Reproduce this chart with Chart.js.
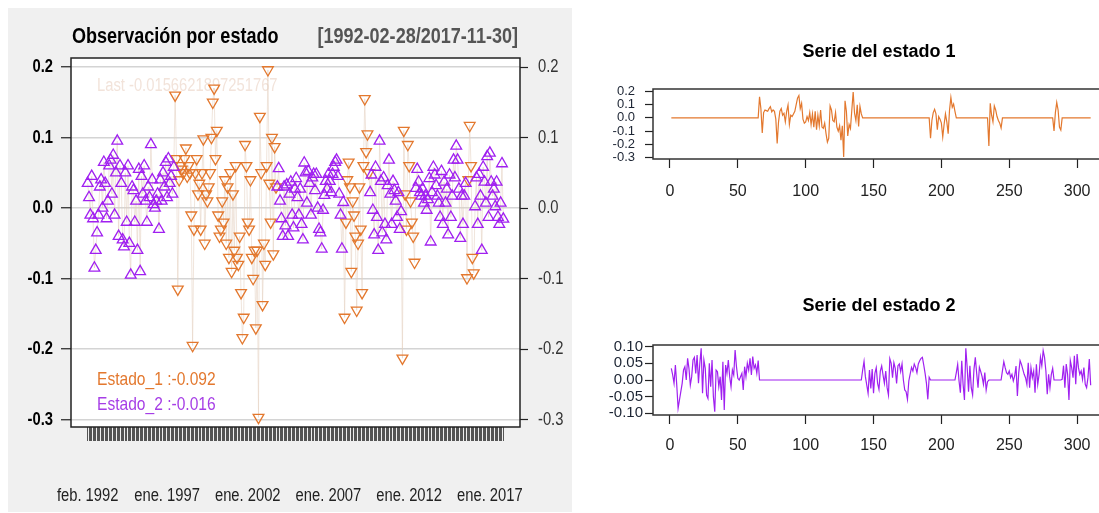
<!DOCTYPE html>
<html>
<head>
<meta charset="utf-8">
<script src="https://cdn.jsdelivr.net/npm/chart.js@4"></script>
<style>
  html, body { margin: 0; padding: 0; background: #fff; width: 1099px; height: 513px; overflow: hidden; }
  canvas { position: absolute; }
  #izq { left: 0; top: 0; }
  #serie1 { left: 580px; top: 0; }
  #serie2 { left: 580px; top: 260px; }
</style>
</head>
<body>
<canvas id="izq" width="580" height="513"></canvas>
<canvas id="serie1" width="540" height="230"></canvas>
<canvas id="serie2" width="540" height="253"></canvas>
<script>
// rendimientos mensuales feb. 1992 - nov. 2017, en tramos consecutivos de cada régimen
const estadoTramo = [2, 1, 2, 1, 2, 1, 2, 1, 2];
const tramo1 = [0.035, 0.015, -0.01, 0.045, -0.015, -0.085, -0.06, -0.035, -0.01, 0.03,
  0.04, 0.0, 0.065, 0.035, -0.015, 0.01, 0.06, 0.068, 0.02, 0.075,
  -0.01, 0.05, 0.095, -0.04, 0.06, 0.035, -0.045, -0.055, 0.05, -0.02,
  0.06, -0.05, -0.095, 0.03, 0.025, -0.02, 0.01, -0.06, 0.055, -0.09,
  0.045, 0.02, 0.06, 0.01, -0.02, 0.03, 0.015, 0.09, 0.04, 0.005,
  0.0, 0.01, 0.02, -0.03, 0.04, 0.01, 0.05, 0.03, 0.065, 0.015,
  0.07, 0.035, 0.045, 0.02, 0.058];
const tramo2 = [0.16, 0.07, -0.115, 0.04, 0.06, 0.055, 0.05, 0.07, 0.085, 0.045,
  0.06, 0.05, -0.01, -0.195, -0.03, 0.05, 0.07, 0.02, 0.035, -0.03,
  0.05, 0.098, -0.05, 0.02, 0.01, 0.03, 0.05, 0.1, 0.15, 0.17,
  0.07, 0.11, -0.01, -0.04, -0.03, 0.01, -0.02, 0.04, -0.05, 0.03,
  -0.07, 0.05, -0.09, 0.02, -0.06, 0.06, -0.07, -0.08, -0.04, -0.12,
  -0.184, -0.155, 0.09, 0.06, -0.02, -0.03, 0.04, -0.07, -0.1, -0.06,
  -0.17, -0.06, -0.297, 0.13, 0.05, -0.137, -0.05, -0.08, 0.06, 0.196,
  0.035, -0.02, 0.1, -0.065, 0.087, 0.03];
const tramo3 = [0.03, 0.056, 0.01, -0.015, -0.04, 0.03, -0.025, 0.033, -0.04, 0.02,
  0.037, -0.01, -0.028, 0.027, 0.042, 0.015, -0.01, 0.027, -0.023, -0.045,
  0.064, 0.05, 0.007, 0.052, 0.035, -0.01, 0.043, 0.048, 0.025, 0.048,
  0.0, -0.03, -0.035, -0.058, -0.003, 0.018, 0.038, 0.027, 0.048, 0.038,
  0.022, 0.048, 0.058, 0.065, 0.068, 0.045, 0.02, -0.01, -0.058, 0.008];
const tramo4 = [-0.155, -0.02, 0.04, 0.065, 0.03, -0.09, 0.01, -0.01, -0.04, -0.145,
  -0.05, 0.03, -0.03, -0.12, 0.06, 0.155, 0.08, 0.105, 0.05];
const tramo5 = [0.022, 0.047, -0.003, -0.038, 0.058, -0.013, -0.06, 0.095, 0.038, -0.035,
  0.043, -0.023, -0.045, 0.032, 0.068, 0.02, -0.023, 0.038, 0.025, 0.01,
  -0.013, 0.022, -0.03, -0.005];
const tramo6 = [-0.213, 0.11, 0.02, -0.03, 0.09, 0.06, 0.01, -0.02, -0.04, -0.077];
const tramo7 = [0.028, 0.055, 0.037, 0.022, 0.017, 0.027, 0.007, 0.017, -0.003, 0.012,
  0.042, -0.048, 0.022, 0.058, 0.047, 0.032, 0.017, 0.007, -0.013, 0.052,
  -0.023, 0.037, 0.007, 0.027, -0.038, 0.047, -0.013, 0.017, 0.068, 0.043,
  0.088, 0.068, 0.027, -0.043, 0.017, -0.023, 0.017, 0.035];
const tramo8 = [-0.099, 0.04, 0.117, 0.06, -0.07, -0.092];
const tramo9 = [0.002, 0.043, -0.023, 0.048, 0.017, -0.06, 0.058, 0.037, 0.007, 0.073,
  -0.013, 0.078, 0.037, 0.017, 0.027, 0.002, 0.037, -0.013, -0.023, 0.007,
  0.063, -0.0156621897251767];

const etiquetasFecha = ['feb. 1992', 'ene. 1997', 'ene. 2002', 'ene. 2007', 'ene. 2012', 'ene. 2017'];
const mesesEtiqueta = [1, 60, 120, 180, 240, 300];
const ticksIzq = [-0.3, -0.2, -0.1, 0, 0.1, 0.2];
const ticksSerie1 = [-0.3, -0.2, -0.1, 0, 0.1, 0.2];
const ticksSerie2 = [-0.1, -0.05, 0, 0.05, 0.1];
const ticksIndice = [0, 50, 100, 150, 200, 250, 300];

const tramos = [tramo1, tramo2, tramo3, tramo4, tramo5, tramo6, tramo7, tramo8, tramo9];
const rendimiento = tramos.flat();
const estado = tramos.flatMap((t, k) => t.map(() => estadoTramo[k]));
const meses = rendimiento.map((v, i) => i + 1);

const SANS = '"Liberation Sans", Arial, sans-serif';
const ANGOSTO = 0.82; // el panel izquierdo usa letra estrecha (tipo Arial Narrow)
const NARANJA = '#e3782e';
const MORADO = '#a020f0';

const puntos = (e) => meses.filter((m, i) => estado[i] === e).map(m => ({x: m, y: rendimiento[m - 1]}));
const ultimo = (e) => rendimiento.filter((v, i) => estado[i] === e).slice(-1)[0];
const ultimoValor = rendimiento[rendimiento.length - 1];

const fijarTicks = (valores) => (s) => { s.ticks = valores.map(v => ({value: v})); };

function texto(ctx, txt, x, y, font, color, align, base) {
  ctx.save();
  ctx.font = font;
  ctx.fillStyle = color;
  ctx.textAlign = align || 'left';
  ctx.textBaseline = base || 'alphabetic';
  ctx.translate(x, y);
  ctx.scale(ANGOSTO, 1);
  ctx.fillText(txt, 0, 0);
  ctx.restore();
}

// panel izquierdo
new Chart(document.getElementById('izq'), {
  type: 'scatter',
  data: {
    datasets: [{
      type: 'line',
      data: meses.map((m, i) => ({x: m, y: rendimiento[i]})),
      borderColor: 'rgba(228,208,192,0.55)',
      borderWidth: 1,
      pointRadius: 0,
      order: 3
    }, {
      data: puntos(1),
      pointStyle: 'triangle',
      rotation: 180,
      pointRadius: 6.2,
      borderColor: NARANJA,
      backgroundColor: 'rgba(0,0,0,0)',
      borderWidth: 1.3,
      order: 2
    }, {
      data: puntos(2),
      pointStyle: 'triangle',
      pointRadius: 6.2,
      borderColor: MORADO,
      backgroundColor: 'rgba(0,0,0,0)',
      borderWidth: 1.3,
      order: 1
    }]
  },
  options: {
    responsive: false,
    animation: false,
    layout: {padding: {top: 58, left: 0, right: 0, bottom: 0}},
    plugins: {legend: {display: false}, tooltip: {enabled: false}},
    scales: {
      x: {
        type: 'linear', min: -11.4, max: 322.4,
        afterBuildTicks: fijarTicks(meses),
        afterFit: (s) => { s.height = 513 - 427; },
        border: {display: false},
        grid: {drawOnChartArea: false, tickLength: 14, tickColor: '#555', tickWidth: 1},
        ticks: {display: false, autoSkip: false, maxRotation: 0, minRotation: 0}
      },
      y: {
        position: 'left', min: -0.3105, max: 0.2128,
        afterBuildTicks: fijarTicks(ticksIzq),
        afterFit: (s) => { s.width = 71; },
        border: {display: false},
        grid: {color: '#d4d4d4', lineWidth: 1.5, tickColor: '#222', tickLength: 10, tickWidth: 1.2},
        ticks: {display: false}
      },
      y2: {
        position: 'right', min: -0.3105, max: 0.2128,
        afterBuildTicks: fijarTicks(ticksIzq),
        afterFit: (s) => { s.width = 60; },
        border: {display: false},
        grid: {drawOnChartArea: false, tickColor: '#222', tickLength: 8, tickWidth: 1.2},
        ticks: {display: false}
      }
    }
  },
  plugins: [{
    id: 'panelIzq',
    beforeDraw(chart) {
      const {ctx, chartArea: a} = chart;
      ctx.save();
      ctx.fillStyle = '#f0f0f0';
      ctx.fillRect(8, 8, 564, 504);
      ctx.fillStyle = '#fff';
      ctx.fillRect(a.left, a.top, a.right - a.left, a.bottom - a.top);
      ctx.restore();
    },
    beforeDatasetsDraw(chart) {
      texto(chart.ctx, 'Last ' + ultimoValor, 97, 91, '18px ' + SANS, '#f2e3da');
    },
    afterDraw(chart) {
      const {ctx, chartArea: a, scales} = chart;
      ctx.save();
      ctx.strokeStyle = '#222';
      ctx.lineWidth = 1.5;
      ctx.strokeRect(a.left, a.top, a.right - a.left, a.bottom - a.top);
      ctx.restore();
      ticksIzq.forEach(v => {
        const py = scales.y.getPixelForValue(v);
        texto(ctx, v.toFixed(1), 53, py, 'bold 18px ' + SANS, '#000', 'right', 'middle');
        texto(ctx, v.toFixed(1), 538, py, '18px ' + SANS, '#333', 'left', 'middle');
      });
      mesesEtiqueta.forEach((m, k) => {
        texto(ctx, etiquetasFecha[k], scales.x.getPixelForValue(m), 501, '18px ' + SANS, '#222', 'center');
      });
      texto(ctx, 'Observación por estado', 72, 43, 'bold 22px ' + SANS, '#000');
      texto(ctx, '[1992-02-28/2017-11-30]', 518, 43, 'bold 22px ' + SANS, '#555', 'right');
      texto(ctx, 'Estado_1 :' + ultimo(1).toFixed(3), 97, 385, '19px ' + SANS, NARANJA);
      texto(ctx, 'Estado_2 :' + ultimo(2).toFixed(3), 97, 410, '19px ' + SANS, '#a63ee6');
    }
  }]
});

// paneles derechos
function serieEstado(id, e, color, cfg) {
  const valores = rendimiento.map((v, i) => estado[i] === e ? v : 0);
  new Chart(document.getElementById(id), {
    type: 'line',
    data: {
      datasets: [{
        data: meses.map((m, i) => ({x: m, y: valores[i]})),
        borderColor: color,
        borderWidth: 1.2,
        pointRadius: 0,
        tension: 0
      }]
    },
    options: {
      responsive: false,
      animation: false,
      layout: {padding: {top: cfg.top, right: 12.5}},
      plugins: {legend: {display: false}, tooltip: {enabled: false}},
      scales: {
        x: {
          type: 'linear', min: -12.5, max: 322.4,
          afterBuildTicks: fijarTicks(ticksIndice),
          afterFit: (s) => { s.height = cfg.altoX; },
          border: {display: false},
          grid: {drawOnChartArea: false, tickLength: 9, tickColor: '#222', tickWidth: 1.2},
          ticks: {autoSkip: false, maxRotation: 0, padding: cfg.padX, color: '#222', font: {family: SANS, size: 16}}
        },
        y: {
          min: cfg.min, max: cfg.max,
          afterBuildTicks: fijarTicks(cfg.ticks),
          afterFit: (s) => { s.width = 73; },
          border: {display: false},
          grid: {drawOnChartArea: false, tickLength: 8, tickColor: '#222', tickWidth: 1.2},
          ticks: {autoSkip: false, padding: cfg.padY, color: '#1c2433', font: {family: SANS, size: cfg.fuenteY}, callback: (v) => v.toFixed(cfg.dec)}
        }
      }
    },
    plugins: [{
      id: 'marco',
      afterDraw(chart) {
        const {ctx, chartArea: a} = chart;
        ctx.save();
        ctx.strokeStyle = '#333';
        ctx.lineWidth = 1.5;
        ctx.strokeRect(a.left, a.top, a.right - a.left, a.bottom - a.top);
        ctx.font = 'bold 18px ' + SANS;
        ctx.fillStyle = '#000';
        ctx.textAlign = 'center';
        ctx.fillText(cfg.titulo, 299, cfg.yTitulo);
        ctx.restore();
      }
    }]
  });
}

serieEstado('serie1', 1, NARANJA, {
  titulo: 'Serie del estado 1', yTitulo: 57, top: 89, altoX: 71, padX: 14, padY: 10,
  min: -0.312, max: 0.219, ticks: ticksSerie1, dec: 1, fuenteY: 13
});
serieEstado('serie2', 2, MORADO, {
  titulo: 'Serie del estado 2', yTitulo: 51, top: 85, altoX: 98, padX: 12, padY: 2,
  min: -0.105, max: 0.105, ticks: ticksSerie2, dec: 2, fuenteY: 15
});
</script>
</body>
</html>
